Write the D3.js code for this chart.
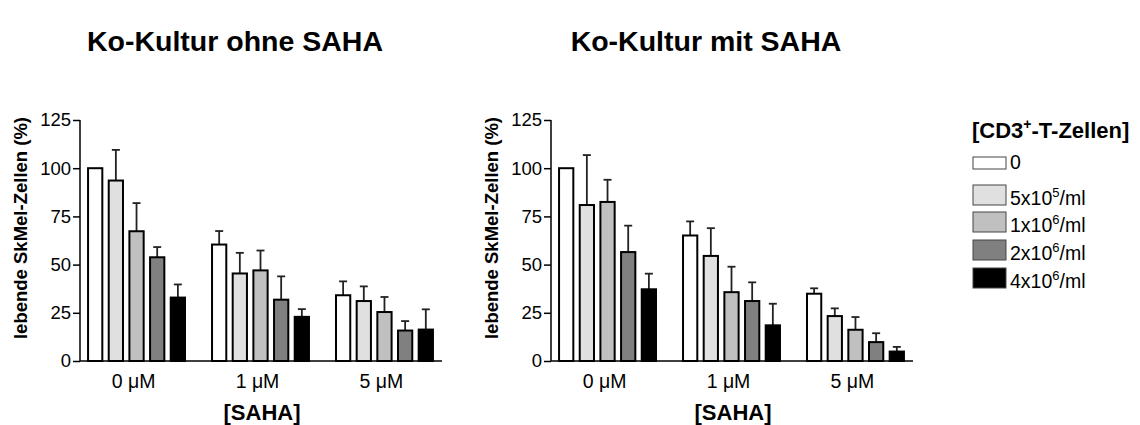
<!DOCTYPE html>
<html>
<head>
<meta charset="utf-8">
<script src="https://cdn.jsdelivr.net/npm/d3@7"></script>
<style>
  body { margin: 0; background: #fff; }
  text { font-family: "Liberation Sans", Arial, sans-serif; fill: #000; }
</style>
</head>
<body>
<svg width="1140" height="425"></svg>
<script>
var groups = ["0 \u03bcM", "1 \u03bcM", "5 \u03bcM"];
var series = ["0", "5x10|5|/ml", "1x10|6|/ml", "2x10|6|/ml", "4x10|6|/ml"];
var fills = ["#ffffff", "#e0e0e0", "#c0c0c0", "#808080", "#000000"];
var yTicks = [0, 25, 50, 75, 100, 125];

// ohne SAHA: mean per group (rows) per T-cell density (cols)
var ohneMean = [[100, 93.6, 67.3, 53.8, 32.9],
                [60.4, 45.4, 47.0, 31.8, 22.9],
                [34.1, 31.1, 25.4, 15.8, 16.3]];
var ohneErr  = [[100, 109.5, 81.9, 59.1, 39.7],
                [67.4, 56.1, 57.3, 43.9, 26.9],
                [41.3, 38.7, 33.2, 20.7, 26.8]];
// mit SAHA
var mitMean = [[100, 80.9, 82.5, 56.5, 37.2],
               [65.1, 54.5, 35.7, 31.1, 18.5],
               [34.9, 23.3, 16.2, 9.8, 4.9]];
var mitErr  = [[100, 106.8, 94.0, 70.2, 45.3],
               [72.4, 68.9, 48.9, 40.8, 29.7],
               [37.7, 27.3, 22.8, 14.4, 7.3]];

var svg = d3.select("svg");

var y = d3.scaleLinear().domain([0, 125]).range([361, 120]);

function drawPanel(x0, title, means, errs) {
  var g = svg.append("g");
  var x = d3.scaleBand().domain(groups).range([x0, x0 + 361])
      .paddingInner(0.218).paddingOuter(0.065);
  var xs = d3.scaleBand().domain(d3.range(5)).range([0, x.bandwidth()])
      .paddingInner(0.31);

  g.append("text")
      .attr("x", x0 + 155).attr("y", 51)
      .attr("text-anchor", "middle")
      .style("font-size", "28.5px").style("font-weight", "bold")
      .text(title);

  // y axis
  var yAxis = g.append("g").attr("transform", "translate(" + x0 + ",0)")
      .call(d3.axisLeft(y).tickValues(yTicks).tickSize(7).tickPadding(2));
  yAxis.select(".domain").attr("stroke", "#000").attr("stroke-width", 1.5)
      .attr("d", "M0,120V361");
  yAxis.selectAll(".tick line").attr("stroke", "#000").attr("stroke-width", 1.5);
  yAxis.selectAll(".tick text").style("font-size", "18.5px");

  g.append("text")
      .attr("transform", "translate(" + (x0 - 53) + ",228) rotate(-90)")
      .attr("text-anchor", "middle")
      .style("font-size", "18.5px").style("font-weight", "bold")
      .text("lebende SkMel-Zellen (%)");

  // bars
  var grp = g.selectAll(".grp").data(groups).enter().append("g")
      .attr("transform", function(d) { return "translate(" + x(d) + ",0)"; });

  grp.each(function(gname, gi) {
    var sel = d3.select(this);
    var rows = means[gi].map(function(v, i) { return {i: i, v: v, e: errs[gi][i]}; });
    // error bars (upper only)
    rows.forEach(function(d) {
      if (d.e <= d.v) return;
      var cx = xs(d.i) + xs.bandwidth() / 2;
      sel.append("line").attr("x1", cx).attr("x2", cx)
          .attr("y1", y(d.v)).attr("y2", y(d.e))
          .attr("stroke", "#222").attr("stroke-width", 1.8);
      sel.append("line").attr("x1", cx - 4).attr("x2", cx + 4)
          .attr("y1", y(d.e)).attr("y2", y(d.e))
          .attr("stroke", "#222").attr("stroke-width", 1.8);
    });
    sel.selectAll("rect").data(rows).enter().append("rect")
        .attr("x", function(d) { return xs(d.i); })
        .attr("width", xs.bandwidth())
        .attr("y", function(d) { return y(d.v); })
        .attr("height", function(d) { return y(0) - y(d.v); })
        .attr("fill", function(d) { return fills[d.i]; })
        .attr("stroke", "#000").attr("stroke-width", 2);
  });

  // x axis
  g.append("line").attr("x1", x0).attr("x2", x0 + 362)
      .attr("y1", y(0)).attr("y2", y(0))
      .attr("stroke", "#000").attr("stroke-width", 1.5);
  g.selectAll(".xl").data(groups).enter().append("text")
      .attr("x", function(d) { return x(d) + x.bandwidth() / 2 - 3; })
      .attr("y", 388)
      .attr("text-anchor", "middle")
      .style("font-size", "19.5px")
      .text(function(d) { return d; });
  g.append("text")
      .attr("x", x0 + 182).attr("y", 420)
      .attr("text-anchor", "middle")
      .style("font-size", "22px").style("font-weight", "bold")
      .text("[SAHA]");
}

drawPanel(80, "Ko-Kultur ohne SAHA", ohneMean, ohneErr);
drawPanel(551, "Ko-Kultur mit SAHA", mitMean, mitErr);

// legend
var lg = svg.append("g").attr("transform", "translate(972,0)");
var lt = lg.append("text").attr("x", 0).attr("y", 138)
    .style("font-size", "22px").style("font-weight", "bold");
lt.append("tspan").text("[CD3");
lt.append("tspan").attr("dy", -9).style("font-size", "14px").text("+");
lt.append("tspan").attr("dy", 9).text("-T-Zellen]");

var itemY = [169, 205, 232, 260, 288]; // bottom of each legend box
series.forEach(function(s, i) {
  var h = i === 0 ? 12 : 20;
  lg.append("rect").attr("x", 1).attr("y", itemY[i] - h)
      .attr("width", 33).attr("height", h)
      .attr("fill", fills[i]).attr("stroke", "#444").attr("stroke-width", 1);
  var t = lg.append("text").attr("x", 38).attr("y", itemY[i] - 0.5)
      .style("font-size", "19.5px");
  var parts = s.split("|");
  t.append("tspan").text(parts[0]);
  if (parts.length > 1) {
    t.append("tspan").attr("dy", -8).style("font-size", "13px").text(parts[1]);
    t.append("tspan").attr("dy", 8).text(parts[2]);
  }
});
</script>
</body>
</html>
